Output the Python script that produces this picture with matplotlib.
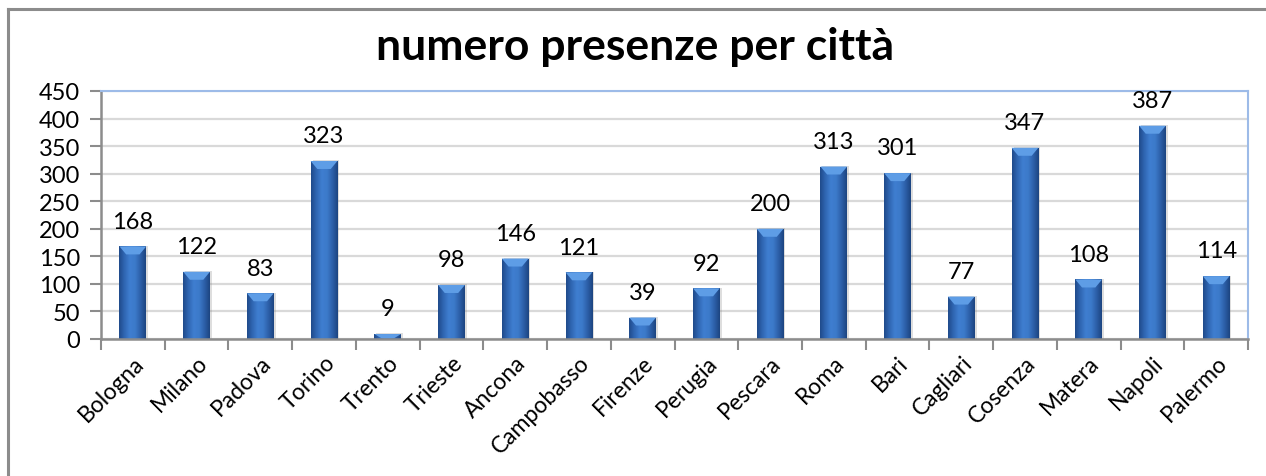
import numpy as np
import matplotlib
matplotlib.use("Agg")
import matplotlib.pyplot as plt
from matplotlib.colors import LinearSegmentedColormap
from matplotlib.patches import Polygon
from matplotlib.lines import Line2D

# Data
cities = ["Bologna", "Milano", "Padova", "Torino", "Trento", "Trieste", "Ancona",
          "Campobasso", "Firenze", "Perugia", "Pescara", "Roma", "Bari", "Cagliari",
          "Cosenza", "Matera", "Napoli", "Palermo"]
presenze = [168, 122, 83, 323, 9, 98, 146, 121, 39, 92, 200, 313, 301, 77, 347, 108, 387, 114]
yticks = [0, 50, 100, 150, 200, 250, 300, 350, 400, 450]
title = "numero presenze per città"

plt.rcParams["font.family"] = ["Lato", "DejaVu Sans"]

W, H = 1266, 477
fig = plt.figure(figsize=(W / 100, H / 100), dpi=100)

# Outer chart frame (top and left edges)
frame_col = "#8c8c8c"
fig.add_artist(Line2D([8 / W, 1.0], [1 - 10 / H, 1 - 10 / H], color=frame_col, lw=2.2,
                      transform=fig.transFigure))
fig.add_artist(Line2D([8 / W, 8 / W], [0.0, 1 - 10 / H], color=frame_col, lw=2.2,
                      transform=fig.transFigure))

left, right, bottom, top = 101, 1248, 340, 92
ax = fig.add_axes([left / W, 1 - bottom / H, (right - left) / W, (bottom - top) / H])

x = np.arange(len(cities))
ax.set_xlim(-0.5, len(cities) - 0.5)
ax.set_ylim(0, 450)

# Grid
ax.set_yticks(yticks)
ax.yaxis.grid(True, color="#d9d9d9", lw=1.6)
ax.set_axisbelow(True)

# Spines
ax.spines["left"].set_color("#8c8c8c")
ax.spines["left"].set_linewidth(1.8)
ax.spines["bottom"].set_color("#8c8c8c")
ax.spines["bottom"].set_linewidth(1.8)
ax.spines["top"].set_color("#9dbbe8")
ax.spines["top"].set_linewidth(1.5)
ax.spines["right"].set_color("#9dbbe8")
ax.spines["right"].set_linewidth(1.5)

# Bars with cylinder-like shading
bar_w = 0.42
bars = ax.bar(x, presenze, width=bar_w, color="#2f63a8", zorder=2)
cmap = LinearSegmentedColormap.from_list(
    "cyl", ["#1f4a8a", "#2f66b2", "#3f7ed0", "#3c7aca", "#2c5fa8", "#1c4480"])
grad = np.linspace(0, 1, 256).reshape(1, -1)
px_per_unit = (bottom - top) / 450.0
for b, v in zip(bars, presenze):
    x0 = b.get_x()
    w = b.get_width()
    # soft shadow
    ax.add_patch(plt.Rectangle((x0 + 0.03, 0), w, v + 1.0, color="#7f7f7f",
                               alpha=0.25, lw=0, zorder=1.8))
    im = ax.imshow(grad, cmap=cmap, extent=[x0, x0 + w, 0, v], aspect="auto",
                   zorder=2.1, interpolation="bilinear")
    im.set_clip_path(b)
    # bevel on top
    bev = min(8 / px_per_unit, v * 0.8)
    tri = Polygon([[x0, v], [x0 + w, v], [x0 + w * 0.75, v - bev], [x0 + w * 0.25, v - bev]],
                  closed=True, facecolor="#5e9de6", edgecolor="none", zorder=2.2)
    ax.add_patch(tri)
    ax.annotate(str(v), (x0 + w / 2, v), xytext=(0, 13.5), textcoords="offset points",
                ha="center", va="baseline", fontsize=17, color="black", zorder=3)

ax.set_xlim(-0.5, len(cities) - 0.5)
ax.set_ylim(0, 450)

# Ticks
ax.set_xticks(x)
ax.set_xticklabels(cities, rotation=45, ha="right", va="top", rotation_mode="anchor",
                   fontsize=16.5)
ax.set_xticks(np.arange(len(cities) + 1) - 0.5, minor=True)
ax.tick_params(axis="x", which="major", length=0, pad=9)
ax.tick_params(axis="x", which="minor", length=8, width=1.5, color="#8c8c8c", direction="out")
ax.tick_params(axis="y", which="major", length=8, width=1.5, color="#8c8c8c",
               direction="out", labelsize=17, pad=7)

fig.text(635 / W, 1 - 47 / H, title, ha="center", va="center", fontsize=32,
         fontweight="bold", color="black")

fig.savefig("out.png", dpi=100, facecolor="white")
